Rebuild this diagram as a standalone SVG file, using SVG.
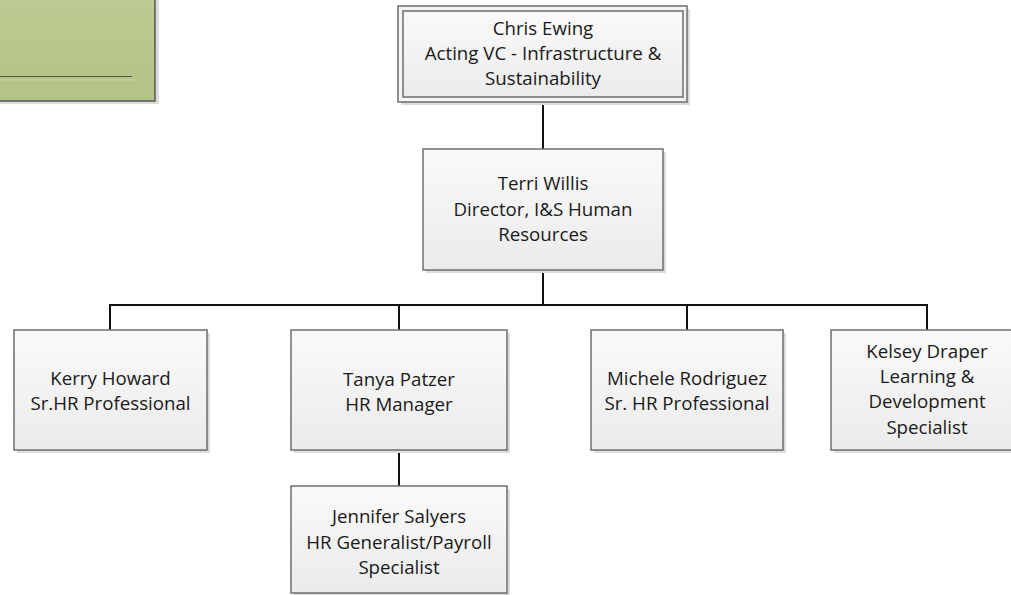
<svg xmlns="http://www.w3.org/2000/svg" width="1011" height="595" viewBox="0 0 1011 595">
<defs>
<linearGradient id="g" x1="0" y1="0" x2="0" y2="1"><stop offset="0" stop-color="#fafafa"/><stop offset="1" stop-color="#ebebeb"/></linearGradient>
<linearGradient id="gg" x1="0" y1="0" x2="0" y2="1"><stop offset="0" stop-color="#bccb92"/><stop offset="1" stop-color="#b3c385"/></linearGradient>
</defs>
<style>
.sh{fill:#dcdcdc}
.bx{fill:url(#g);stroke:#6e6e6e;stroke-width:1.5}
.t{font-family:"Open Sans","Liberation Sans",sans-serif;font-size:18.7px;fill:#1a1a1a;text-anchor:middle}
.c{stroke:#111;stroke-width:2;fill:none}
</style>
<g id="legend">
<rect x="-5" y="-5" width="164" height="109" class="sh"/>
<rect x="-5" y="-5" width="160" height="106" fill="url(#gg)" stroke="#555" stroke-width="1.5"/>
<line x1="0" y1="76.5" x2="132" y2="76.5" stroke="#555" stroke-width="1.2"/>
<line x1="0" y1="80" x2="135" y2="80" stroke="#c9d4a6" stroke-width="1"/>
</g>
<g id="connectors">
<line class="c" x1="543" y1="102" x2="543" y2="149"/>
<line class="c" x1="543" y1="270" x2="543" y2="305"/>
<line class="c" x1="109" y1="305" x2="928" y2="305"/>
<line class="c" x1="110" y1="305" x2="110" y2="330"/>
<line class="c" x1="399" y1="305" x2="399" y2="330"/>
<line class="c" x1="687" y1="305" x2="687" y2="330"/>
<line class="c" x1="927" y1="305" x2="927" y2="330"/>
<line class="c" x1="399" y1="450" x2="399" y2="486"/>
</g>
<g id="chris">
<rect x="401" y="9" width="289" height="96" class="sh"/>
<rect x="398" y="6" width="289" height="96" fill="#f4f4f4" stroke="#6e6e6e" stroke-width="1.5"/>
<rect x="403" y="11" width="280" height="86" class="bx"/>
<text class="t" x="543" y="35">Chris Ewing</text>
<text class="t" x="543" y="60">Acting VC - Infrastructure &amp;</text>
<text class="t" x="543" y="85">Sustainability</text>
</g>
<g id="terri">
<rect x="426" y="152" width="240" height="121" class="sh"/>
<rect x="423" y="149" width="240" height="121" class="bx"/>
<text class="t" x="543" y="190">Terri Willis</text>
<text class="t" x="543" y="216">Director, I&amp;S Human</text>
<text class="t" x="543" y="241">Resources</text>
</g>
<g id="kerry">
<rect x="17" y="333" width="193" height="120" class="sh"/>
<rect x="14" y="330" width="193" height="120" class="bx"/>
<text class="t" x="110.5" y="385">Kerry Howard</text>
<text class="t" x="110.5" y="410">Sr.HR Professional</text>
</g>
<g id="tanya">
<rect x="294" y="333" width="216" height="120" class="sh"/>
<rect x="291" y="330" width="216" height="120" class="bx"/>
<text class="t" x="399" y="386">Tanya Patzer</text>
<text class="t" x="399" y="411">HR Manager</text>
</g>
<g id="michele">
<rect x="594" y="333" width="192" height="120" class="sh"/>
<rect x="591" y="330" width="192" height="120" class="bx"/>
<text class="t" x="687" y="385">Michele Rodriguez</text>
<text class="t" x="687" y="410">Sr. HR Professional</text>
</g>
<g id="kelsey">
<rect x="834" y="333" width="193" height="120" class="sh"/>
<rect x="831" y="330" width="193" height="120" class="bx"/>
<text class="t" x="927" y="358">Kelsey Draper</text>
<text class="t" x="927" y="383">Learning &amp;</text>
<text class="t" x="927" y="408">Development</text>
<text class="t" x="927" y="434">Specialist</text>
</g>
<g id="jennifer">
<rect x="294" y="489" width="216" height="108" class="sh"/>
<rect x="291" y="486" width="216" height="107" class="bx"/>
<text class="t" x="399" y="523">Jennifer Salyers</text>
<text class="t" x="399" y="549">HR Generalist/Payroll</text>
<text class="t" x="399" y="574">Specialist</text>
</g>
</svg>
